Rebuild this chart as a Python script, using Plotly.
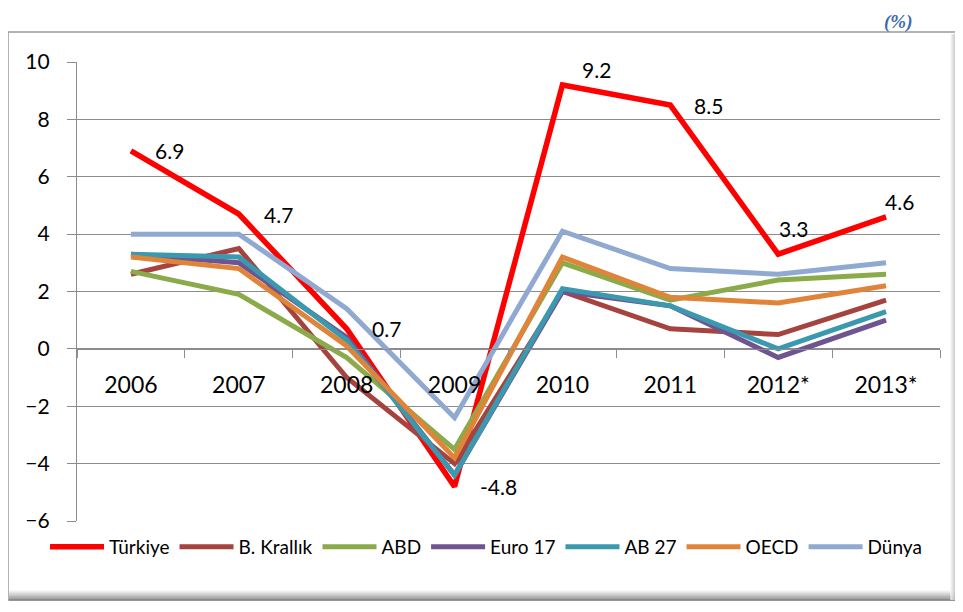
import plotly.graph_objects as go

years = ["2006", "2007", "2008", "2009", "2010", "2011", "2012*", "2013*"]
turkiye = [6.9, 4.7, 0.7, -4.8, 9.2, 8.5, 3.3, 4.6]
b_krallik = [2.6, 3.5, -1.0, -4.0, 2.0, 0.7, 0.5, 1.7]
abd = [2.7, 1.9, -0.3, -3.5, 3.0, 1.7, 2.4, 2.6]
euro17 = [3.3, 3.0, 0.4, -4.4, 2.0, 1.5, -0.3, 1.0]
ab27 = [3.3, 3.2, 0.3, -4.4, 2.1, 1.5, 0.0, 1.3]
oecd = [3.2, 2.8, 0.1, -3.8, 3.2, 1.8, 1.6, 2.2]
dunya = [4.0, 4.0, 1.4, -2.4, 4.1, 2.8, 2.6, 3.0]

series_names = ["Türkiye", "B. Krallık", "ABD", "Euro 17", "AB 27", "OECD", "Dünya"]
series_values = [turkiye, b_krallik, abd, euro17, ab27, oecd, dunya]
colors = ["#FF0000", "#A5433F", "#8BAA4A", "#6E5590", "#3A98AF", "#E0843A", "#90A9D1"]

y_min, y_max, y_step = -6, 10, 2

# page body has an 8px margin -> figure drawn 8px in from the window edge
OFF = 8
W, H = 963 - OFF, 612 - OFF
L, R, T, B = 77 - OFF, 940 - OFF, 62 - OFF, 521 - OFF
PW, PH = R - L, B - T


def px(x):
    return (x - OFF - L) / PW


def py(y):
    return (B - (y - OFF)) / PH


FONT = "Lato"
GRID = "#8C8C8C"

fig = go.Figure()
for name, vals, col in zip(series_names, series_values, colors):
    fig.add_trace(go.Scatter(
        x=years, y=vals, name=name, mode="lines",
        line=dict(color=col, width=5.5 if name == "Türkiye" else 5),
        hoverinfo="x+y+name",
    ))

# Türkiye data labels (offsets in px are styling)
label_offsets = [(22, 0), (23, 0), (23, 0), (23, 0), (18, 15), (22, 0), (-1, 26), (-3, 15)]
for i, (v, (dx, dy)) in enumerate(zip(turkiye, label_offsets)):
    fig.add_annotation(x=i, y=v, text=f"{v:.1f}", showarrow=False,
                       xanchor="left", yanchor="middle", xshift=dx, yshift=dy,
                       font=dict(family=FONT, size=21, color="#000"))

# outer frame
fig.add_shape(type="rect", xref="paper", yref="paper",
              x0=px(8), x1=px(957), y0=py(600), y1=py(32),
              line=dict(color="#9A9A9A", width=1.5), layer="below")
# bottom shadow
shade = ["#F2F2F2", "#E6E6E6", "#D8D8D8", "#CACACA", "#BBBBBB", "#ABABAB",
         "#9C9C9C", "#8E8E8E", "#828282", "#7A7A7A"]
for i, c in enumerate(shade):
    yy = 591 + i
    fig.add_shape(type="line", xref="paper", yref="paper",
                  x0=px(9), x1=px(957), y0=py(yy), y1=py(yy),
                  line=dict(color=c, width=1.2), layer="below")
# right shadow
rshade = ["#F4F4F4", "#E8E8E8", "#DCDCDC", "#D0D0D0", "#C4C4C4"]
for i, c in enumerate(rshade):
    xx = 951 + i
    fig.add_shape(type="line", xref="paper", yref="paper",
                  x0=px(xx), x1=px(xx), y0=py(600), y1=py(34),
                  line=dict(color=c, width=1.2), layer="below")

fig.add_annotation(text="(%)", xref="paper", yref="paper", x=px(898), y=py(34),
                   showarrow=False, xanchor="center", yanchor="bottom", borderpad=0,
                   font=dict(family="Liberation Serif", size=19, color="#3B6BA5",
                             weight="bold", style="italic"))

zero_pos = (0 - y_min) / (y_max - y_min)

fig.update_layout(
    width=W, height=H,
    margin=dict(l=L, r=W - R, t=T, b=H - B, pad=0),
    paper_bgcolor="white", plot_bgcolor="white",
    font=dict(family=FONT, color="#000"),
    showlegend=True,
    legend=dict(orientation="h", x=px(45), y=py(547), xanchor="left", yanchor="middle",
                font=dict(family=FONT, size=19, color="#000"),
                itemwidth=54, traceorder="normal", bgcolor="rgba(0,0,0,0)"),
    xaxis=dict(type="category", range=[-0.5, len(years) - 0.5],
               anchor="free", position=zero_pos,
               showgrid=False, showline=True, linecolor=GRID, linewidth=1.3,
               ticks="outside", tickson="boundaries", ticklen=8, tickcolor=GRID, tickwidth=1.3,
               tickfont=dict(family=FONT, size=23, color="#000"),
               ticklabelstandoff=15, zeroline=False, fixedrange=True),
    yaxis=dict(range=[y_min, y_max], dtick=y_step, tick0=0,
               showgrid=True, gridcolor=GRID, gridwidth=1.3,
               showline=True, linecolor=GRID, linewidth=1.3,
               ticks="outside", ticklen=9, tickcolor=GRID, tickwidth=1.3,
               tickfont=dict(family=FONT, size=21, color="#000"),
               ticklabelstandoff=13, zeroline=False, fixedrange=True),
)

fig.write_html("out.html")
